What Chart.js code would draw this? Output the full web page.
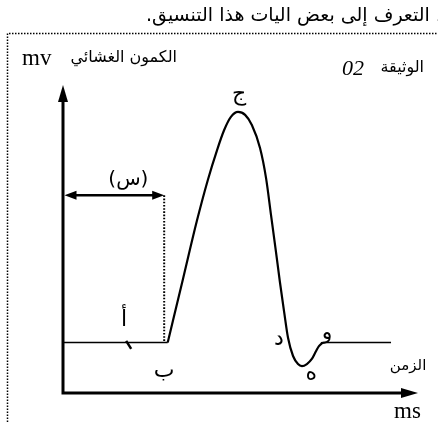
<!DOCTYPE html>
<html>
<head>
<meta charset="utf-8">
<script src="https://cdn.jsdelivr.net/npm/chart.js@4"></script>
<style>
  html, body { margin: 0; padding: 0; background: #fff; }
  #wrap { width: 438px; height: 422px; position: relative; }
  canvas { display: block; }
</style>
</head>
<body>
<div id="wrap"><canvas id="c" width="438" height="422"></canvas></div>
<script>
// ---- data (time in ms, membrane potential in mV) ----
const restTime = [0, 2.95];
const restPotential = [-70, -70];
const spikeTime = [2.95, 3.38, 3.77, 4.08, 4.34, 4.54, 4.73, 4.93, 5.13, 5.32, 5.55, 5.72, 5.86, 6.0, 6.11, 6.23, 6.34, 6.48, 6.62, 6.73, 6.87, 7.01, 7.13, 7.21, 7.32];
const spikePotential = [-70, -42.4, -17.2, 0.7, 13.7, 22.4, 28.1, 30.3, 29.0, 24.6, 14.6, 1.5, -14.6, -30.7, -43.7, -56.8, -68.1, -75.9, -79.4, -80.3, -79.4, -77.2, -73.7, -71.6, -70];
const recoveryTime = [7.32, 9.24];
const recoveryPotential = [-70, -70];

// axis ranges
const timeRange = [0, 10];
const potentialRange = [-92, 42];

// annotation anchors (ms, mV)
const stimulusEnd = 2.85;       // end of interval (س)
const intervalLevel = -6;       // height of the double arrow
const pointLabels = [
  { text: 'ج', t: 4.96, v: 38.0 },
  { text: 'أ', t: 1.72, v: -60.2 },
  { text: 'ب', t: 2.85, v: -82.4 },
  { text: 'د', t: 6.08, v: -68.5 },
  { text: 'ه', t: 6.99, v: -83.8 },
  { text: 'و', t: 7.44, v: -65.9 }
];
const tickMark = { t: 1.85, v: -71.1 };

const toPts = (xs, ys) => xs.map((x, i) => ({ x: x, y: ys[i] }));

const arabicFont = '"DejaVu Sans", "Noto Sans", sans-serif';
const serifFont = '"Liberation Serif", "DejaVu Serif", serif';

function arrowHead(ctx, tipX, tipY, dirX, dirY, len, half) {
  const bx = tipX - dirX * len, by = tipY - dirY * len;
  const px = -dirY, py = dirX;
  ctx.beginPath();
  ctx.moveTo(tipX, tipY);
  ctx.lineTo(bx + px * half, by + py * half);
  ctx.lineTo(bx - px * half, by - py * half);
  ctx.closePath();
  ctx.fill();
}

const decor = {
  id: 'decor',
  beforeDatasetsDraw(chart) {
    const ctx = chart.ctx;
    const xs = chart.scales.x, ys = chart.scales.y;
    const X = v => xs.getPixelForValue(v), Y = v => ys.getPixelForValue(v);
    ctx.save();
    // dotted frame
    ctx.strokeStyle = '#000';
    ctx.lineWidth = 1.5;
    ctx.setLineDash([1.5, 1.5]);
    ctx.beginPath();
    ctx.moveTo(7.5, 422);
    ctx.lineTo(7.5, 33.5);
    ctx.lineTo(438, 33.5);
    ctx.stroke();
    // dotted vertical line of interval
    ctx.lineWidth = 2;
    ctx.setLineDash([1.6, 1.6]);
    ctx.beginPath();
    ctx.moveTo(X(stimulusEnd), Y(intervalLevel));
    ctx.lineTo(X(stimulusEnd), Y(-70));
    ctx.stroke();
    ctx.setLineDash([]);
    ctx.restore();
  },
  afterDatasetsDraw(chart) {
    const ctx = chart.ctx;
    const xs = chart.scales.x, ys = chart.scales.y;
    const X = v => xs.getPixelForValue(v), Y = v => ys.getPixelForValue(v);
    ctx.save();
    ctx.fillStyle = '#000';
    ctx.strokeStyle = '#000';
    // axes
    const x0 = X(timeRange[0]), y0 = Y(potentialRange[0]);
    const yTop = Y(potentialRange[1]), xEnd = X(timeRange[1]);
    ctx.lineWidth = 3;
    ctx.beginPath();
    ctx.moveTo(x0, y0 + 1.5);
    ctx.lineTo(x0, yTop + 14);
    ctx.moveTo(x0 - 1.5, y0);
    ctx.lineTo(xEnd - 14, y0);
    ctx.stroke();
    arrowHead(ctx, x0, yTop, 0, -1, 17, 5);
    arrowHead(ctx, xEnd, y0, 1, 0, 17, 5);
    // double arrow (س)
    const ay = Y(intervalLevel), ax1 = x0 + 1.5, ax2 = X(stimulusEnd);
    ctx.lineWidth = 2.5;
    ctx.beginPath();
    ctx.moveTo(ax1 + 10, ay);
    ctx.lineTo(ax2 - 10, ay);
    ctx.stroke();
    arrowHead(ctx, ax1, ay, -1, 0, 12, 4.5);
    arrowHead(ctx, ax2, ay, 1, 0, 12, 4.5);
    ctx.font = '20px ' + arabicFont;
    ctx.textAlign = 'center';
    ctx.textBaseline = 'middle';
    ctx.fillText('(س)', (ax1 + ax2) / 2 + 14, ay - 16);
    // tick mark at أ
    const tx = X(tickMark.t), ty = Y(tickMark.v);
    ctx.lineWidth = 2.5;
    ctx.beginPath();
    ctx.moveTo(tx - 2.5, ty - 4);
    ctx.lineTo(tx + 2.5, ty + 4);
    ctx.stroke();
    // point labels
    ctx.font = '22px ' + arabicFont;
    pointLabels.forEach(p => ctx.fillText(p.text, X(p.t), Y(p.v)));
    // axis names
    ctx.font = '15px ' + arabicFont;
    ctx.fillText('الزمن', X(9.72), Y(-80.3));
    ctx.font = '23px ' + serifFont;
    ctx.textAlign = 'left';
    ctx.textBaseline = 'alphabetic';
    ctx.fillText('ms', xEnd - 24, y0 + 25);
    ctx.fillText('mv', x0 - 41, yTop - 20);
    ctx.font = '16px ' + arabicFont;
    ctx.textAlign = 'right';
    ctx.fillText('الكمون الغشائي', x0 + 114, yTop - 23);
    // document label
    ctx.font = 'italic 22px ' + serifFont;
    ctx.textAlign = 'left';
    ctx.fillText('02', 342, 75);
    ctx.font = '16px ' + arabicFont;
    ctx.textAlign = 'right';
    ctx.fillText('الوثيقة', 424, 72);
    // top sentence
    ctx.font = '19px ' + arabicFont;
    ctx.direction = 'rtl';
    ctx.textAlign = 'right';
    ctx.fillText('، التعرف إلى بعض اليات هذا التنسيق.', 442, 21);
    ctx.restore();
  }
};

new Chart(document.getElementById('c'), {
  type: 'line',
  data: {
    datasets: [
      { data: toPts(restTime, restPotential), borderColor: '#000', borderWidth: 1.6, pointRadius: 0, tension: 0 },
      { data: toPts(spikeTime, spikePotential), borderColor: '#000', borderWidth: 2.2, pointRadius: 0, cubicInterpolationMode: 'monotone' },
      { data: toPts(recoveryTime, recoveryPotential), borderColor: '#000', borderWidth: 1.6, pointRadius: 0, tension: 0 }
    ]
  },
  options: {
    responsive: false,
    animation: false,
    devicePixelRatio: 1,
    layout: { padding: { left: 63, right: 20, top: 85, bottom: 29 } },
    plugins: { legend: { display: false }, tooltip: { enabled: false }, title: { display: false } },
    scales: {
      x: { type: 'linear', display: false, min: timeRange[0], max: timeRange[1] },
      y: { type: 'linear', display: false, min: potentialRange[0], max: potentialRange[1] }
    }
  },
  plugins: [decor]
});
</script>
</body>
</html>
